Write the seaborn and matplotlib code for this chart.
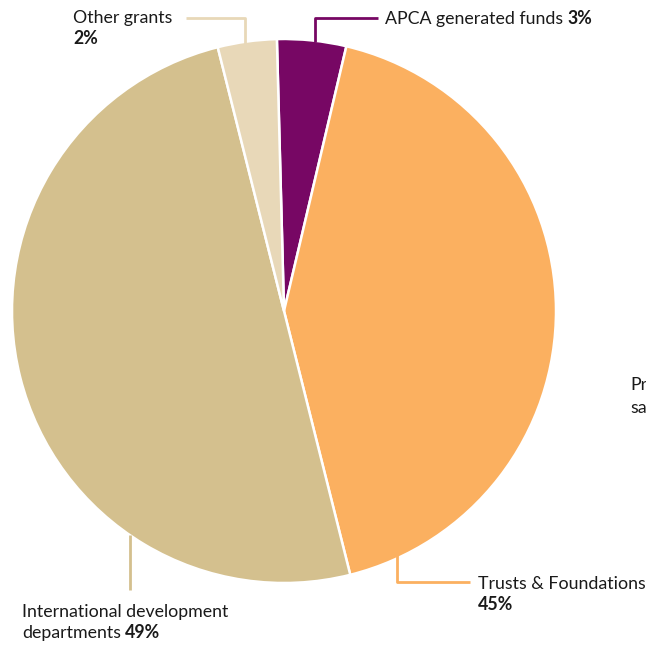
import matplotlib
matplotlib.use("Agg")
import matplotlib.pyplot as plt
import seaborn as sns

sns.set_theme(style="white")
plt.rcParams['font.family'] = ['Lato', 'DejaVu Sans']

# data
categories = ["APCA generated funds", "Trusts & Foundations",
              "International development departments", "Other grants"]
values = [4.1, 42.4, 50.0, 3.5]
pct_labels = ["3%", "45%", "49%", "2%"]
colors = sns.color_palette(["#770764", "#FBB060", "#D4C08E", "#E8D8B8"])

W, H = 646, 645
fig = plt.figure(figsize=(W / 100, H / 100), dpi=100)
ax = fig.add_axes([0, 0, 1, 1])

cx, cy, r = 284, H - 311, 272
ax.pie(values, colors=colors, startangle=91.5, counterclock=False,
       center=(cx, cy), radius=r, frame=True,
       wedgeprops=dict(edgecolor="white", linewidth=1.8))
ax.set_xlim(0, W)
ax.set_ylim(0, H)
ax.axis("off")

def Y(py):
    return H - py

fs = 12.8
txt = "#1a1a1a"
renderer = fig.canvas.get_renderer()

def label_with_pct(x, py, label, pct):
    t = ax.text(x, Y(py), label, fontsize=fs, color=txt, va="center", ha="left")
    bb = t.get_window_extent(renderer=renderer)
    x_end = ax.transData.inverted().transform((bb.x1, 0))[0]
    ax.text(x_end + 4, Y(py), pct, fontsize=fs, color=txt, va="center",
            ha="left", fontweight="bold")

# Other grants
ax.plot([186, 245, 245], [Y(18), Y(18), Y(45)], color=colors[3], lw=2, solid_capstyle="butt")
ax.text(73, Y(18), "Other grants", fontsize=fs, color=txt, va="center", ha="left")
ax.text(73, Y(39), pct_labels[3], fontsize=fs, color=txt, va="center", ha="left", fontweight="bold")
# APCA
ax.plot([378, 315, 315], [Y(18), Y(18), Y(42)], color=colors[0], lw=2, solid_capstyle="butt")
label_with_pct(385, 19, "APCA generated funds", pct_labels[0])
# Trusts
ax.plot([397, 397, 470], [Y(545), Y(582), Y(582)], color=colors[1], lw=2, solid_capstyle="butt")
ax.text(478, Y(584), "Trusts & Foundations", fontsize=fs, color=txt, va="center", ha="left")
ax.text(478, Y(605), pct_labels[1], fontsize=fs, color=txt, va="center", ha="left", fontweight="bold")
# International
ax.plot([130, 130], [Y(535), Y(590)], color=colors[2], lw=2, solid_capstyle="butt")
ax.text(22, Y(612), "International development", fontsize=fs, color=txt, va="center", ha="left")
label_with_pct(22, 633, "departments", pct_labels[2])
# truncated label at right edge (cut off in the reference as well)
ax.text(630, Y(385), "Private", fontsize=fs, color=txt, va="center", ha="left", clip_on=True)
ax.text(630, Y(408), "sales", fontsize=fs, color=txt, va="center", ha="left", clip_on=True)

fig.savefig("out.png", dpi=100)
